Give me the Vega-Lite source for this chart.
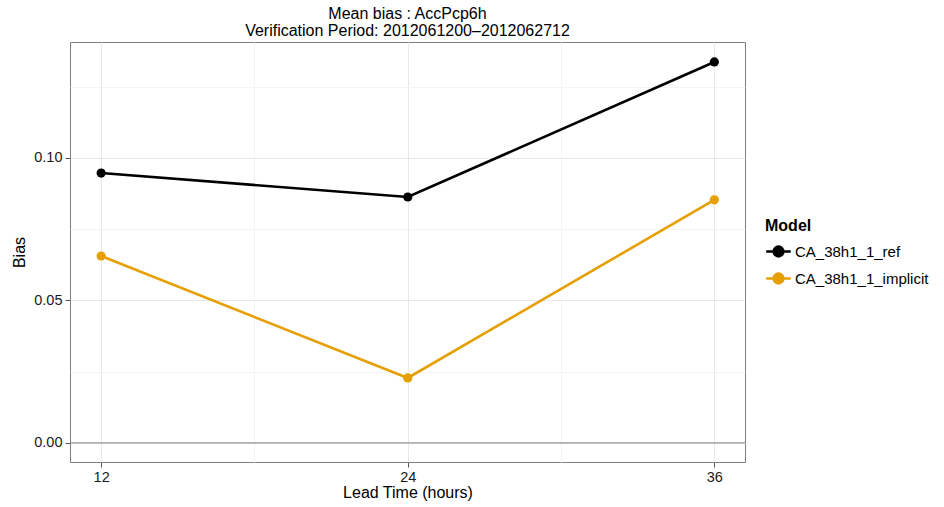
{
  "$schema": "https://vega.github.io/schema/vega-lite/v6.json",
  "width": 675,
  "height": 420,
  "autosize": "none",
  "padding": {"left": 70, "top": 42, "right": 199, "bottom": 45},
  "background": "white",
  "config": {
    "font": "Liberation Sans",
    "view": {"stroke": "#7f7f7f", "strokeWidth": 1},
    "axis": {"domain": false, "labelFontSize": 14.5, "labelColor": "#1a1a1a", "titleFontSize": 16, "titleFontWeight": "normal", "titleColor": "#000000", "tickColor": "#7f7f7f", "tickSize": 5}
  },
  "title": {
    "text": ["Mean bias : AccPcp6h", "Verification Period: 2012061200\u20132012062712"],
    "fontSize": 16,
    "fontWeight": "normal",
    "color": "#000000",
    "anchor": "middle",
    "offset": 3,
    "lineHeight": 17
  },
  "data": {
    "values": [
      {"lead": 12, "bias": 0.0947, "model": "CA_38h1_1_ref"},
      {"lead": 24, "bias": 0.0863, "model": "CA_38h1_1_ref"},
      {"lead": 36, "bias": 0.1337, "model": "CA_38h1_1_ref"},
      {"lead": 12, "bias": 0.0656, "model": "CA_38h1_1_implicit"},
      {"lead": 24, "bias": 0.0228, "model": "CA_38h1_1_implicit"},
      {"lead": 36, "bias": 0.0853, "model": "CA_38h1_1_implicit"}
    ]
  },
  "encoding": {
    "x": {
      "field": "lead", "type": "quantitative",
      "scale": {"domain": [10.78, 37.2], "nice": false, "zero": false},
      "axis": {
        "title": "Lead Time (hours)",
        "values": [12, 18, 24, 30, 36],
        "labelExpr": "datum.value % 12 == 0 ? datum.value : ''",
        "gridColor": {"condition": {"test": "datum.value % 12 == 0", "value": "#e8e8e8"}, "value": "#f4f4f4"},
        "tickColor": {"condition": {"test": "datum.value % 12 == 0", "value": "#555555"}, "value": "transparent"},
        "labelPadding": 3,
        "titlePadding": 1
      }
    },
    "y": {
      "field": "bias", "type": "quantitative",
      "scale": {"domain": [-0.0067, 0.1407], "nice": false, "zero": false},
      "axis": {
        "title": "Bias",
        "values": [0, 0.025, 0.05, 0.075, 0.1, 0.125],
        "format": ".2f",
        "labelExpr": "(round(datum.value*1000) % 50 == 0) ? datum.label : ''",
        "gridColor": {"condition": {"test": "round(datum.value*1000) % 50 == 0", "value": "#e8e8e8"}, "value": "#f4f4f4"},
        "tickColor": {"condition": {"test": "round(datum.value*1000) % 50 == 0", "value": "#555555"}, "value": "transparent"},
        "labelPadding": 3,
        "titlePadding": 6
      }
    },
    "color": {
      "field": "model", "type": "nominal",
      "scale": {"domain": ["CA_38h1_1_ref", "CA_38h1_1_implicit"], "range": ["#000000", "#E69F00"]},
      "legend": {
        "title": "Model",
        "orient": "none",
        "legendX": 695,
        "legendY": 176,
        "titleFontSize": 16,
        "titleFontWeight": "bold",
        "titleColor": "#000000",
        "labelFontSize": 15,
        "labelColor": "#000000",
        "symbolSize": 600,
        "symbolType": "M-1,0L1,0M0.4,0A0.4,0.4 0 1,1 -0.4,0A0.4,0.4 0 1,1 0.4,0Z",
        "symbolStrokeWidth": 2.5,
        "rowPadding": 3,
        "labelOffset": 3,
        "titlePadding": 4,
        "encode": {"symbols": {"update": {"stroke": {"scale": "color", "field": "value"}, "fill": {"scale": "color", "field": "value"}, "strokeWidth": {"value": 2.5}, "opacity": {"value": 1}}}}
      }
    }
  },
  "layer": [
    {
      "data": {"values": [{"z": 0}]},
      "mark": {"type": "rule", "color": "#7f7f7f", "strokeWidth": 1},
      "encoding": {"y": {"field": "z", "type": "quantitative"}, "x": null, "color": null}
    },
    {
      "mark": {"type": "line", "strokeWidth": 2.6}
    },
    {
      "mark": {"type": "point", "filled": true, "opacity": 1, "size": 85}
    }
  ]
}
